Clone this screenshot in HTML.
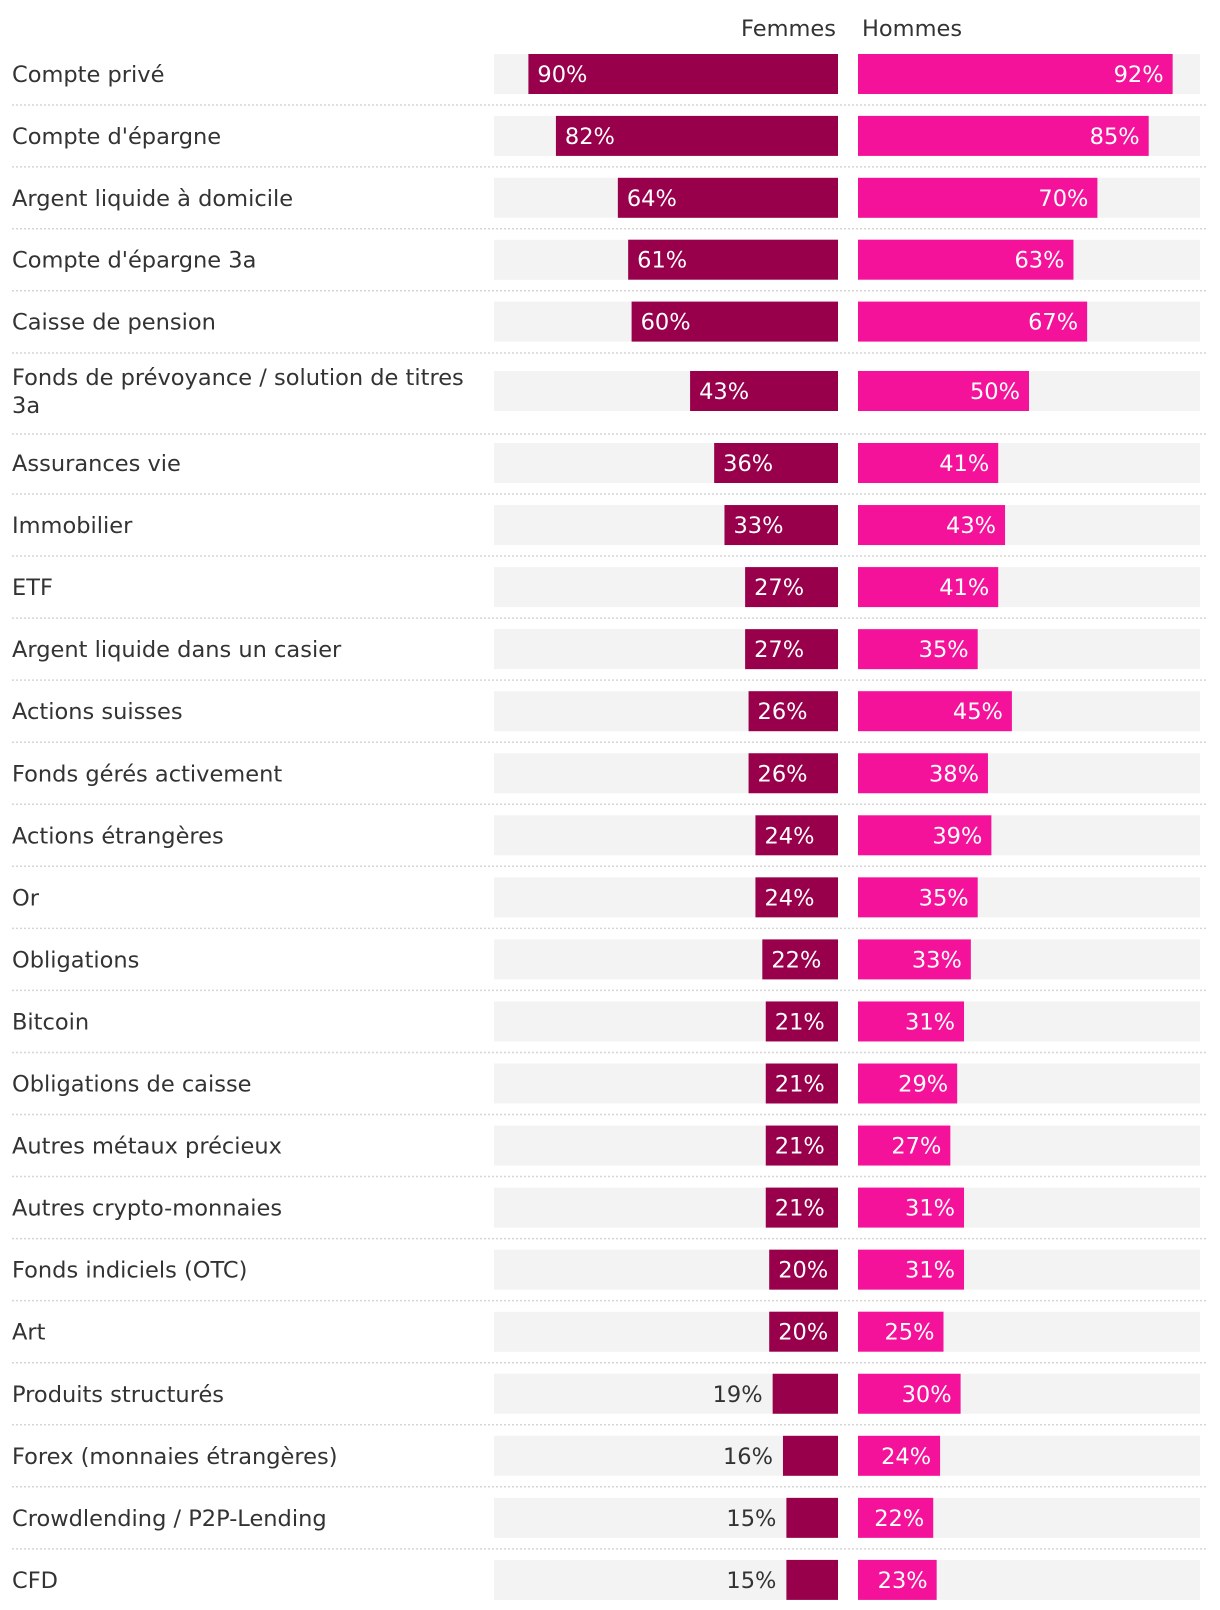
<!DOCTYPE html>
<html><head><meta charset="utf-8"><style>
body{margin:0;background:#fff;}
svg{display:block;font-family:"DejaVu Sans","Liberation Sans",sans-serif;}
</style></head><body>
<svg id="chart" width="1220" height="1610" viewBox="0 0 1220 1610" xmlns="http://www.w3.org/2000/svg">
<text x="836" y="36" text-anchor="end" font-size="22.5" fill="#333">Femmes</text>
<text x="862" y="36" font-size="22.5" fill="#333">Hommes</text>
<g id="rows"></g>
</svg>
<script>
const categories = ["Compte privé","Compte d'épargne","Argent liquide à domicile","Compte d'épargne 3a","Caisse de pension","Fonds de prévoyance / solution de titres|3a","Assurances vie","Immobilier","ETF","Argent liquide dans un casier","Actions suisses","Fonds gérés activement","Actions étrangères","Or","Obligations","Bitcoin","Obligations de caisse","Autres métaux précieux","Autres crypto-monnaies","Fonds indiciels (OTC)","Art","Produits structurés","Forex (monnaies étrangères)","Crowdlending / P2P-Lending","CFD"];
const femmes = [90,82,64,61,60,43,36,33,27,27,26,26,24,24,22,21,21,21,21,20,20,19,16,15,15];
const hommes = [92,85,70,63,67,50,41,43,41,35,45,38,39,35,33,31,29,27,31,31,25,30,24,22,23];

const NS="http://www.w3.org/2000/svg";
const g=document.getElementById('rows');
const fL=494,fR=838,hL=858,hR=1200,barH=40,FS=22.5;
const fx=v=>fR-(fR-fL)*v/100;
const hx=v=>hL+(hR-hL)*v/100;
function mk(tag,attrs){const e=document.createElementNS(NS,tag);for(const k in attrs)e.setAttribute(k,attrs[k]);return e;}
function rowY(i){ if(i<5) return 74+i*61.9; if(i===5) return 391; return 463+(i-6)*62.05; }
categories.forEach((c,i)=>{
  const cy=rowY(i);
  const top=cy-barH/2;
  const lines=c.split('|');
  if(lines.length===1){
    const t=mk('text',{x:12,y:cy+8,'font-size':FS,fill:'#333'});
    
    
    t.textContent=lines[0];g.appendChild(t);
  } else {
    lines.forEach((l,k)=>{
      const t=mk('text',{x:12,y:cy-6+k*28,'font-size':FS,fill:'#333'});
      
      
      t.textContent=l;g.appendChild(t);
    });
  }
  const bg1=mk('rect',{x:fL,y:top,width:fR-fL,height:barH,fill:'#f3f3f3'});
  
  
  g.appendChild(bg1);
  const bg2=mk('rect',{x:hL,y:top,width:hR-hL,height:barH,fill:'#f3f3f3'});
  
  
  g.appendChild(bg2);
  const fv=femmes[i],hv=hommes[i];
  const b1=mk('rect',{x:fx(fv),y:top,width:fR-fx(fv),height:barH,fill:'#98004b'});
  
  
  g.appendChild(b1);
  const b2=mk('rect',{x:hL,y:top,width:hx(hv)-hL,height:barH,fill:'#f5129a'});
  
  
  g.appendChild(b2);
  const inside=fv>=20;
  const t1=mk('text',{x:inside?fx(fv)+9:fx(fv)-10,y:cy+8,'font-size':FS,fill:inside?'#fff':'#333','text-anchor':inside?'start':'end'});
  
  
  t1.textContent=fv+'%';g.appendChild(t1);
  const t2=mk('text',{x:hx(hv)-9,y:cy+8,'font-size':FS,fill:'#fff','text-anchor':'end'});
  
  
  t2.textContent=hv+'%';g.appendChild(t2);
  if(i<categories.length-1){
    const sy=(i===4)?353:(i===5?434:top+barH+11);
    const ln=mk('line',{x1:12,x2:1206,y1:sy,y2:sy,stroke:'#d6d6d6','stroke-width':1.5,'stroke-dasharray':'2 2'});
    
    
    g.appendChild(ln);
  }
});
</script>
</body></html>
